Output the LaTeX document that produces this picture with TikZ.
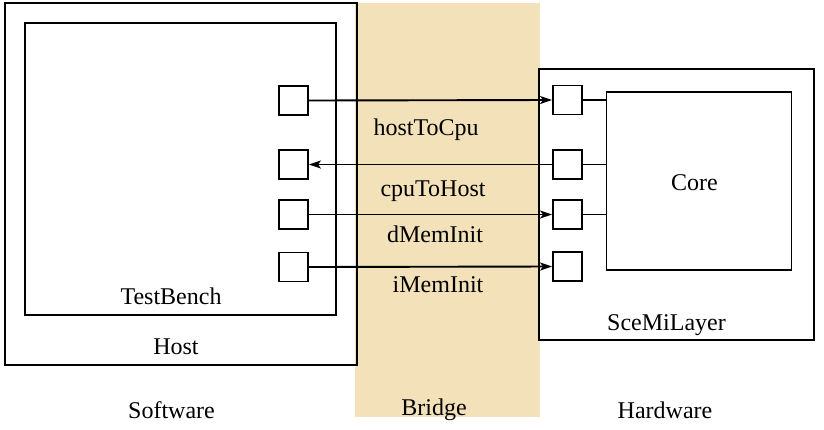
\documentclass[tikz,border=0pt]{standalone}
\usepackage{fontspec}
\setmainfont{Liberation Serif}
\usetikzlibrary{arrows.meta}
\definecolor{bridgetan}{RGB}{243,225,185}
\begin{document}
\begin{tikzpicture}[x=1pt,y=-1pt,
  every node/.style={font=\fontsize{24}{28}\selectfont},
  box/.style={draw=black,line width=1.9pt,rectangle,inner sep=0pt},
  port/.style={box,fill=white,minimum width=29pt,minimum height=29pt},
  lbl/.style={anchor=base,inner sep=0pt},
  conn/.style={line width=1.9pt},
  arr/.style={conn,-{Stealth[length=12pt,width=8pt,inset=3pt]}}
]
\useasboundingbox (0,0) rectangle (824,429);
% bridge band
\fill[bridgetan] (355,3) rectangle (540,417);
% host side
\node[box,minimum width=352pt,minimum height=362pt] (host) at (181,184) {};
\node[box,minimum width=311pt,minimum height=292pt] (tb) at (180.5,169) {};
\node[lbl] (tbl) at (171,304) {TestBench};
\node[lbl] (hostl) at (176,354) {Host};
% hardware side
\node[box,minimum width=275pt,minimum height=271pt] (sce) at (676.5,204.5) {};
\node[box,minimum width=185pt,minimum height=178pt] (core) at (699,181) {};
\node[lbl] (corel) at (694.5,190) {Core};
\node[lbl] (scel) at (666.5,330) {SceMiLayer};
% ports
\node[port] (lp1) at (293.5,100.5) {};
\node[port] (lp2) at (293.5,164.5) {};
\node[port] (lp3) at (293.5,214.5) {};
\node[port] (lp4) at (293.5,267) {};
\node[port] (rp1) at (567.5,100) {};
\node[port] (rp2) at (567.5,164.5) {};
\node[port] (rp3) at (567.5,214.5) {};
\node[port] (rp4) at (567.5,266.5) {};
% channels
\draw[arr] (lp1.east) -- (rp1.west);
\draw[arr] (rp2.west) -- (lp2.east);
\draw[arr] (lp3.east) -- (rp3.west);
\draw[arr] (lp4.east) -- (rp4.west);
\draw[conn] (rp1.east) -- (rp1.east -| core.west);
\draw[conn] (rp2.east) -- (rp2.east -| core.west);
\draw[conn] (rp3.east) -- (rp3.east -| core.west);
% channel labels
\node[lbl] (h2c) at (426,135) {hostToCpu};
\node[lbl] (c2h) at (433,196) {cpuToHost};
\node[lbl] (dmi) at (435,242) {dMemInit};
\node[lbl] (imi) at (438,292.5) {iMemInit};
% domain labels
\node[lbl] (sw) at (171.5,418) {Software};
\node[lbl] (br) at (434,415) {Bridge};
\node[lbl] (hw) at (665,418) {Hardware};
\end{tikzpicture}
\end{document}
